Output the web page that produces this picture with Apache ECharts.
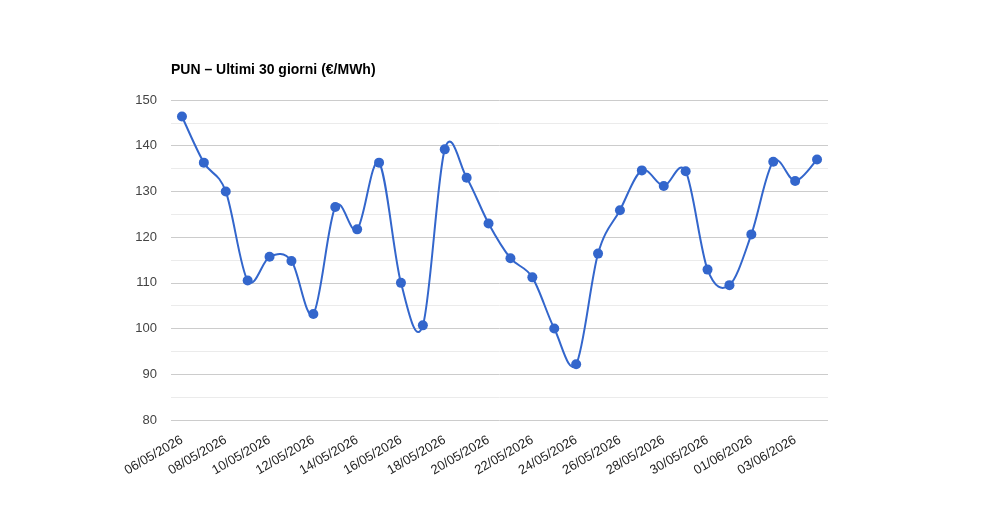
<!DOCTYPE html>
<html>
<head>
<meta charset="utf-8">
<script src="https://cdn.jsdelivr.net/npm/echarts@6/dist/echarts.min.js"></script>
<style>
  html, body { margin: 0; padding: 0; background: #fff; }
  #chart { width: 1000px; height: 520px; }
</style>
</head>
<body>
<div id="chart"></div>
<script>
// date giornaliere
const dates = [
    '06/05/2026', '07/05/2026', '08/05/2026', '09/05/2026', '10/05/2026',
    '11/05/2026', '12/05/2026', '13/05/2026', '14/05/2026', '15/05/2026',
    '16/05/2026', '17/05/2026', '18/05/2026', '19/05/2026', '20/05/2026',
    '21/05/2026', '22/05/2026', '23/05/2026', '24/05/2026', '25/05/2026',
    '26/05/2026', '27/05/2026', '28/05/2026', '29/05/2026', '30/05/2026',
    '31/05/2026', '01/06/2026', '02/06/2026', '03/06/2026', '04/06/2026'
];

// prezzo PUN (€/MWh)
const pun = [
    146.4, 136.3, 130.0, 110.5, 115.7, 114.8, 103.2, 126.6, 121.7, 136.3,
    110.0, 100.7, 139.2, 133.0, 123.0, 115.4, 111.2, 100.0, 92.2, 116.4,
    125.9, 134.6, 131.2, 134.4, 112.9, 109.5, 120.6, 136.5, 132.3, 137.0
];

const yTicks = [80, 90, 100, 110, 120, 130, 140, 150];

const lineColor = '#3366cc';

// curva morbida (Catmull-Rom) calcolata sulle coordinate dell'asse
function renderCurve(params, api) {
    const pts = pun.map((v, i) => api.coord([i, v]));
    let d = 'M' + pts[0][0] + ' ' + pts[0][1];
    for (let i = 0; i < pts.length - 1; i++) {
        const p0 = pts[i - 1] || pts[i];
        const p1 = pts[i];
        const p2 = pts[i + 1];
        const p3 = pts[i + 2] || pts[i + 1];
        const c1x = p1[0] + (p2[0] - p0[0]) / 6;
        const c1y = p1[1] + (p2[1] - p0[1]) / 6;
        const c2x = p2[0] - (p3[0] - p1[0]) / 6;
        const c2y = p2[1] - (p3[1] - p1[1]) / 6;
        d += ' C' + c1x + ' ' + c1y + ' ' + c2x + ' ' + c2y + ' ' + p2[0] + ' ' + p2[1];
    }
    return {
        type: 'path',
        shape: { pathData: d },
        style: { stroke: lineColor, lineWidth: 2, fill: 'none' }
    };
}

const chart = echarts.init(document.getElementById('chart'));

const option = {
    backgroundColor: '#ffffff',
    animation: false,
    textStyle: { fontFamily: 'Liberation Sans, Arial, sans-serif' },
    title: {
        text: 'PUN – Ultimi 30 giorni (€/MWh)',
        left: 171,
        top: 63,
        padding: 0,
        textStyle: {
            fontFamily: 'Liberation Sans, Arial, sans-serif',
            fontSize: 14,
            fontWeight: 'bold',
            color: '#000'
        }
    },
    grid: {
        left: 171,
        right: 172,
        top: 100,
        bottom: 100
    },
    xAxis: {
        type: 'category',
        data: dates,
        boundaryGap: true,
        axisLine: { show: false },
        axisTick: { show: false },
        axisLabel: {
            interval: 1,
            rotate: 30,
            margin: 19,
            fontSize: 13,
            color: '#222'
        }
    },
    yAxis: {
        type: 'value',
        min: yTicks[0],
        max: yTicks[yTicks.length - 1],
        interval: 10,
        axisLine: { show: false },
        axisTick: { show: false },
        axisLabel: {
            fontSize: 13,
            color: '#444',
            margin: 14
        },
        splitLine: { lineStyle: { color: '#cccccc', width: 1 } },
        minorTick: { show: false, splitNumber: 2 },
        minorSplitLine: { show: true, lineStyle: { color: '#ebebeb', width: 1 } }
    },
    series: [
        {
            name: 'curva',
            type: 'custom',
            renderItem: renderCurve,
            data: [0],
            silent: true,
            z: 2
        },
        {
            name: 'PUN',
            type: 'scatter',
            data: pun,
            symbol: 'circle',
            symbolSize: 10,
            itemStyle: { color: lineColor, opacity: 1 },
            z: 3
        }
    ]
};

chart.setOption(option);
</script>
</body>
</html>
